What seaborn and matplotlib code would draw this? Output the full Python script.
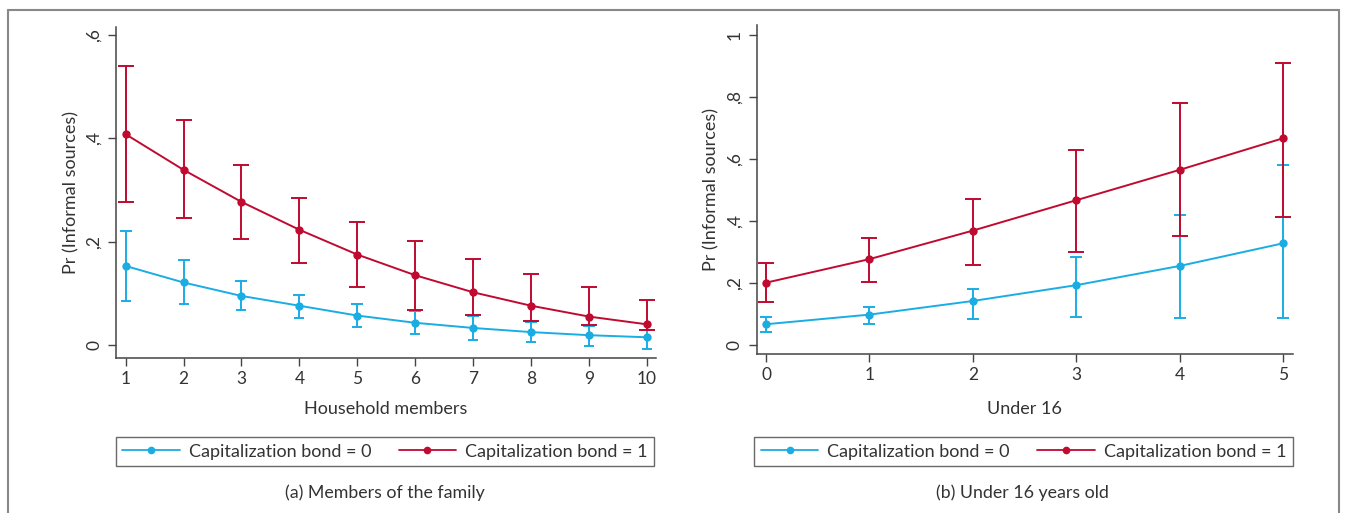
import pandas as pd
import matplotlib.pyplot as plt
import seaborn as sns
from matplotlib.lines import Line2D

sns.set_style('ticks')
plt.rcParams['font.family'] = ['Lato', 'DejaVu Sans']

# (a) household members
members = [1, 2, 3, 4, 5, 6, 7, 8, 9, 10]
mem_p0 = [0.153, 0.121, 0.095, 0.076, 0.057, 0.043, 0.033, 0.025, 0.019, 0.015]
mem_lo0 = [0.085, 0.080, 0.068, 0.052, 0.034, 0.021, 0.010, 0.005, -0.001, -0.008]
mem_hi0 = [0.221, 0.164, 0.123, 0.097, 0.079, 0.066, 0.057, 0.045, 0.037, 0.029]
mem_p1 = [0.408, 0.339, 0.277, 0.223, 0.175, 0.135, 0.102, 0.076, 0.055, 0.040]
mem_lo1 = [0.277, 0.245, 0.206, 0.159, 0.112, 0.068, 0.058, 0.046, 0.038, 0.030]
mem_hi1 = [0.539, 0.435, 0.348, 0.284, 0.239, 0.201, 0.167, 0.137, 0.112, 0.088]

# (b) under 16
under16 = [0, 1, 2, 3, 4, 5]
u16_p0 = [0.067, 0.098, 0.142, 0.193, 0.255, 0.328]
u16_lo0 = [0.043, 0.069, 0.084, 0.090, 0.087, 0.087]
u16_hi0 = [0.091, 0.121, 0.182, 0.283, 0.419, 0.580]
u16_p1 = [0.201, 0.277, 0.369, 0.467, 0.565, 0.667]
u16_lo1 = [0.138, 0.204, 0.259, 0.301, 0.351, 0.412]
u16_hi1 = [0.263, 0.344, 0.470, 0.628, 0.781, 0.911]

groups = ['Capitalization bond = 0', 'Capitalization bond = 1']
BLUE = '#1AADE4'
RED = '#C00A30'
TXT = '#333333'


def long_df(x, p0, lo0, hi0, p1, lo1, hi1):
    d0 = pd.DataFrame({'x': x, 'p': p0, 'lo': lo0, 'hi': hi0, 'g': groups[0]})
    d1 = pd.DataFrame({'x': x, 'p': p1, 'lo': lo1, 'hi': hi1, 'g': groups[1]})
    return pd.concat([d0, d1], ignore_index=True)


df_a = long_df(members, mem_p0, mem_lo0, mem_hi0, mem_p1, mem_lo1, mem_hi1)
df_b = long_df(under16, u16_p0, u16_lo0, u16_hi0, u16_p1, u16_lo1, u16_hi1)

W, H = 1347, 513
fig = plt.figure(figsize=(W / 100, H / 100), dpi=100)

ax_a = fig.add_axes([116 / W, 1 - 358.4 / H, 539.5 / W, 331.7 / H])
ax_b = fig.add_axes([756.5 / W, 1 - 354.3 / H, 536.5 / W, 328.9 / H])


def draw(ax, df, xticks, yticks, ylabels, xlim, ylim, xlabel, msizes, xpad):
    for g, col in zip(groups, [BLUE, RED]):
        sub = df[df['g'] == g]
        ax.errorbar(sub['x'], sub['p'],
                    yerr=[sub['p'] - sub['lo'], sub['hi'] - sub['p']],
                    fmt='none', ecolor=col, elinewidth=1.4, capsize=5.5,
                    capthick=1.4, zorder=2)
    sns.lineplot(data=df, x='x', y='p', hue='g', palette=[BLUE, RED],
                 ax=ax, legend=False, linewidth=1.4, marker='o',
                 markeredgewidth=0, zorder=3)
    for line, ms in zip(ax.get_lines(), msizes):
        line.set_markersize(ms)
    ax.set_xlim(*xlim)
    ax.set_ylim(*ylim)
    ax.set_xticks(xticks)
    ax.set_yticks(yticks)
    ax.set_yticklabels(ylabels, rotation=90, va='center')
    ax.tick_params(axis='both', labelsize=12.5, colors=TXT, length=6, width=1,
                   color='#444444')
    ax.tick_params(axis='y', pad=4)
    ax.tick_params(axis='x', pad=3)
    for s in ['top', 'right']:
        ax.spines[s].set_visible(False)
    for s in ['left', 'bottom']:
        ax.spines[s].set_color('#444444')
        ax.spines[s].set_linewidth(1.1)
    ax.set_xlabel(xlabel, fontsize=13, color=TXT, labelpad=xpad)
    ax.set_ylabel('Pr (Informal sources)', fontsize=13, color=TXT, labelpad=5)


draw(ax_a, df_a, members, [0, 0.2, 0.4, 0.6], ['0', ',2', ',4', ',6'],
     (0.835, 10.146), (-0.0259, 0.616), 'Household members', [7, 9], 10)
draw(ax_b, df_b, under16, [0, 0.2, 0.4, 0.6, 0.8, 1.0],
     ['0', ',2', ',4', ',6', ',8', '1'],
     (-0.092, 5.096), (-0.030, 1.031), 'Under 16', [8.5, 8.5], 13)

handles = [Line2D([], [], color=BLUE, lw=1.3, marker='o', ms=5.5, mew=0),
           Line2D([], [], color=RED, lw=1.3, marker='o', ms=5.5, mew=0)]

for x0, x1 in [(114, 656), (754, 1293)]:
    leg = fig.legend(handles, groups, loc='center', ncol=2,
                     bbox_to_anchor=((x0 + x1) / 2 / W, 1 - 451.5 / H),
                     fontsize=13, frameon=True, fancybox=False,
                     handlelength=3.2, columnspacing=1.5, handletextpad=0.5,
                     borderpad=0.35, labelcolor=TXT)
    leg.get_frame().set_edgecolor('#444444')
    leg.get_frame().set_linewidth(1.0)

fig.text(385 / W, 1 - 493 / H, '(a) Members of the family', ha='center',
         va='center', fontsize=12.8, color=TXT)
fig.text(1022 / W, 1 - 493 / H, '(b) Under 16 years old', ha='center',
         va='center', fontsize=12.8, color=TXT)

# outer frame
frame_kw = dict(color='#888888', lw=1.5, transform=fig.transFigure)
fig.add_artist(Line2D([8 / W, 8 / W], [0, 1 - 10 / H], **frame_kw))
fig.add_artist(Line2D([1339 / W, 1339 / W], [0, 1 - 10 / H], **frame_kw))
fig.add_artist(Line2D([8 / W, 1339 / W], [1 - 10 / H, 1 - 10 / H], **frame_kw))

fig.savefig('out.png', dpi=100)
